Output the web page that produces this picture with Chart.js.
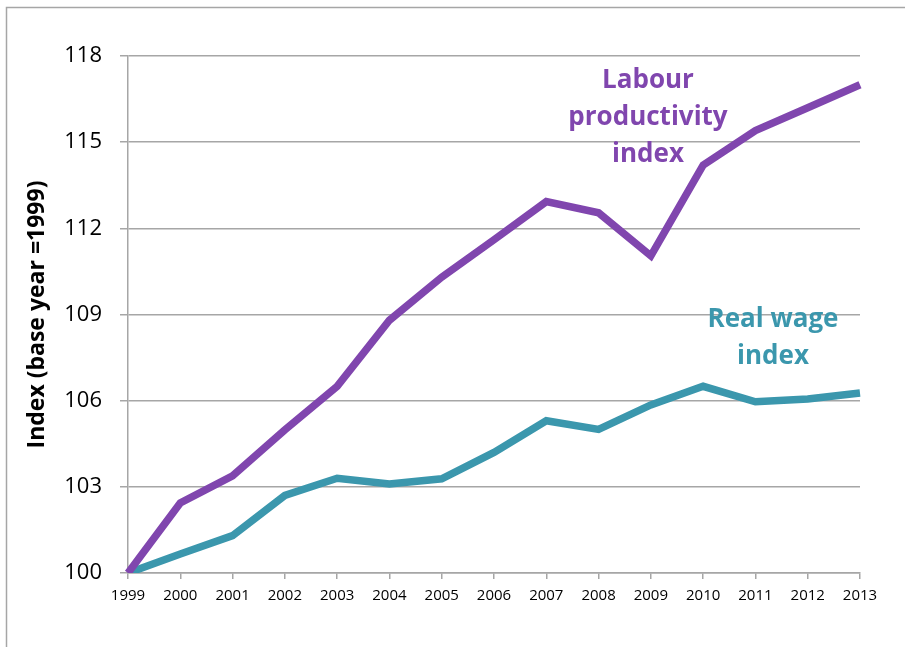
<!DOCTYPE html>
<html>
<head>
<meta charset="utf-8">
<script src="https://cdn.jsdelivr.net/npm/chart.js@4.4.1/dist/chart.umd.min.js"></script>
<style>
  html, body { margin: 0; padding: 0; background: #fff; }
  #wrap { width: 905px; height: 647px; }
</style>
</head>
<body>
<div id="wrap"><canvas id="indexChart" width="905" height="647"></canvas></div>
<script>
// data
const years = ['1999', '2000', '2001', '2002', '2003', '2004', '2005', '2006',
               '2007', '2008', '2009', '2010', '2011', '2012', '2013'];
const productivity = [100, 102.44, 103.38, 104.98, 106.5, 108.8, 110.3, 111.6,
                      112.93, 112.54, 111.04, 114.2, 115.4, 116.2, 117.0];
const realWage = [100, 100.66, 101.3, 102.7, 103.3, 103.1, 103.28, 104.2,
                  105.3, 105.0, 105.85, 106.5, 105.96, 106.06, 106.27];
const yMin = 100, yMax = 118, yStep = 3;

const PURPLE = '#8046ae';
const TEAL = '#3b97ad';
const GRID = '#a6a6a6';

// grey frame round the whole chart + in-chart labels
const decorations = {
    id: 'decorations',
    beforeDraw(chart) {
        const ctx = chart.ctx;
        ctx.save();
        ctx.strokeStyle = GRID;
        ctx.lineWidth = 1.5;
        ctx.strokeRect(6.5, 7.5, 1000, 1000);
        ctx.restore();
    },
    afterDatasetsDraw(chart) {
        const ctx = chart.ctx;
        ctx.save();
        ctx.textAlign = 'center';
        ctx.textBaseline = 'middle';
        ctx.font = 'bold 26px "Open Sans"';
        ctx.fillStyle = PURPLE;
        ctx.fillText('Labour', 648, 81);
        ctx.fillText('productivity', 648, 118);
        ctx.fillText('index', 648, 155);
        ctx.fillStyle = TEAL;
        ctx.fillText('Real wage', 773, 320);
        ctx.fillText('index', 773, 357);
        ctx.restore();
    }
};

new Chart(document.getElementById('indexChart'), {
    type: 'line',
    data: {
        labels: years,
        datasets: [{
            label: 'Labour productivity index',
            data: productivity,
            borderColor: PURPLE,
            borderWidth: 7.5,
            pointRadius: 0,
            tension: 0
        }, {
            label: 'Real wage index',
            data: realWage,
            borderColor: TEAL,
            borderWidth: 7.5,
            pointRadius: 0,
            tension: 0
        }]
    },
    options: {
        responsive: false,
        animation: false,
        layout: { padding: { left: 6, top: 56, right: 45, bottom: 0 } },
        plugins: {
            legend: { display: false },
            tooltip: { enabled: false }
        },
        scales: {
            x: {
                offset: false,
                afterFit(scale) { scale.height = 74; },
                grid: { drawOnChartArea: false, drawTicks: true, tickLength: 6, color: GRID, lineWidth: 1.5 },
                border: { color: GRID, width: 1.5 },
                ticks: { color: '#000', font: { family: '"Open Sans"', size: 15 }, padding: 8, maxRotation: 0, autoSkip: false }
            },
            y: {
                min: yMin,
                max: yMax,
                afterFit(scale) { scale.width = 122; },
                grid: { color: GRID, lineWidth: 1.5, tickLength: 8 },
                border: { color: GRID, width: 1.5 },
                ticks: { stepSize: yStep, color: '#000', font: { family: '"Open Sans"', size: 22 }, padding: 18 },
                title: {
                    display: true,
                    text: 'Index (base year =1999)',
                    color: '#000',
                    font: { family: '"Open Sans"', size: 23, weight: 'bold' },
                    padding: { top: 18, bottom: 0 }
                }
            }
        }
    },
    plugins: [decorations]
});
</script>
</body>
</html>
